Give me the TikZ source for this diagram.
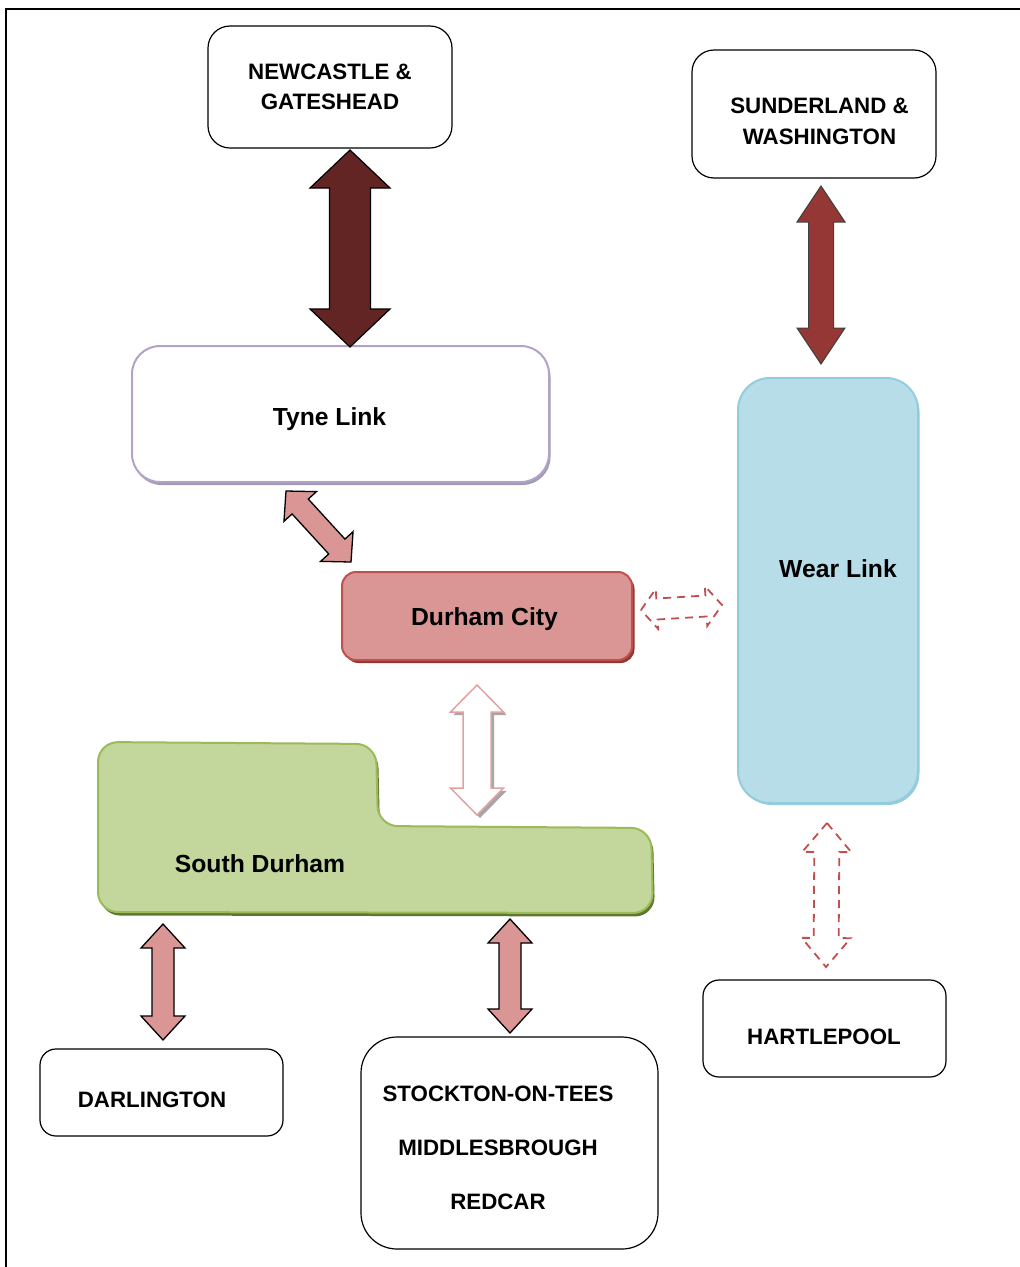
\documentclass[tikz,border=0pt]{standalone}
\usepackage{fontspec}
\setmainfont{Liberation Sans}
\usetikzlibrary{calc,shadows}
\definecolor{ncarrow}{HTML}{632523}
\definecolor{snarrow}{HTML}{953735}
\definecolor{pinkfill}{HTML}{D99694}
\definecolor{redline}{HTML}{C0504D}
\definecolor{redshadow}{HTML}{943634}
\definecolor{greenfill}{HTML}{C3D69B}
\definecolor{greenline}{HTML}{9BBB59}
\definecolor{greenshadow}{HTML}{5F7530}
\definecolor{lavline}{HTML}{B3A2C7}
\definecolor{lavshadow}{HTML}{A29CB2}
\definecolor{bluefill}{HTML}{B7DDE8}
\definecolor{blueline}{HTML}{93CDDD}
\definecolor{hollowline}{HTML}{E0A3A2}
\newcommand{\blockarrow}[6]{%
  \path ($(#2)!#6!(#3)$) coordinate (ba-h1) ($(#3)!#6!(#2)$) coordinate (ba-h2);
  \draw[#1] (#2) -- ($(ba-h1)!#5!90:(#3)$) -- ($(ba-h1)!#4!90:(#3)$)
    -- ($(ba-h2)!#4!-90:(#2)$) -- ($(ba-h2)!#5!-90:(#2)$) -- (#3)
    -- ($(ba-h2)!#5!90:(#2)$) -- ($(ba-h2)!#4!90:(#2)$)
    -- ($(ba-h1)!#4!-90:(#3)$) -- ($(ba-h1)!#5!-90:(#3)$) -- cycle;
}
\tikzset{
  box/.style={draw=black, line width=1.2pt, fill=white, inner sep=0pt, rounded corners=#1},
  box/.default=18pt,
  capt/.style={font=\fontsize{22.3}{30}\selectfont\bfseries, inner sep=0pt, anchor=north, align=center},
  mixt/.style={font=\fontsize{24.7}{30}\selectfont\bfseries, inner sep=0pt, anchor=north},
  solidpink/.style={fill=pinkfill, draw=black, line width=1.3pt, line join=miter},
  dasharrow/.style={draw=redline, line width=1.8pt, dash pattern=on 8pt off 6pt},
}
\begin{document}
\begin{tikzpicture}[x=1pt,y=-1pt]
\useasboundingbox (0,0) rectangle (1020,1267);
\draw[line width=2pt] (6,1267) -- (6,8.5) -- (1020,8.5);

% boxes
\node[box=22pt, minimum width=244pt, minimum height=122pt] (ncl) at (330,87) {};
\node[capt] (ncltxt) at (330,64) {NEWCASTLE \&\\GATESHEAD};
\node[box=22pt, minimum width=244pt, minimum height=128pt] (sun) at (814,114) {};
\node[capt, font=\fontsize{22.3}{31}\selectfont\bfseries] (suntxt) at (819.5,98) {SUNDERLAND \&\\WASHINGTON};

\node[draw=lavline, line width=2pt, fill=white, rounded corners=28pt, minimum width=417pt, minimum height=136pt,
  drop shadow={shadow xshift=1.5pt, shadow yshift=-3pt, fill=lavshadow, opacity=1}] (tyne) at (340.5,414) {};
\node[mixt] (tynetxt) at (329.5,407) {Tyne Link};

\node[draw=blueline, line width=2pt, fill=bluefill, rounded corners=32pt, minimum width=180pt, minimum height=425pt,
  drop shadow={shadow xshift=1.5pt, shadow yshift=-2pt, fill=blueline, opacity=1}] (wear) at (828,590.5) {};
\node[mixt] (weartxt) at (838,559) {Wear Link};

\node[draw=redline, line width=2pt, fill=pinkfill, rounded corners=14pt, minimum width=290pt, minimum height=88pt,
  drop shadow={shadow xshift=2.5pt, shadow yshift=-3pt, fill=redshadow, opacity=1}] (dur) at (487,616) {};
\node[mixt] (durtxt) at (484.5,607) {Durham City};

\draw[draw=greenline, fill=greenfill, line width=2pt, rounded corners=20pt,
  drop shadow={shadow xshift=2pt, shadow yshift=-3.5pt, fill=greenshadow, opacity=1}]
  (98,912) -- (98,742) -- (376,744) -- (378,826) -- (651,828) -- (653,913) -- cycle;
\node[mixt] (sdtxt) at (260,854) {South Durham};

\node[box=16pt, minimum width=243pt, minimum height=87pt] (dar) at (161.5,1092.5) {};
\node[capt] (dartxt) at (152,1092) {DARLINGTON};
\node[box=36pt, minimum width=297pt, minimum height=212pt] (stk) at (509.5,1143) {};
\node[capt, font=\fontsize{22.3}{54}\selectfont\bfseries] (stktxt) at (498,1086) {STOCKTON-ON-TEES\\MIDDLESBROUGH\\REDCAR};
\node[box=16pt, minimum width=243pt, minimum height=97pt] (hrt) at (824.5,1028.5) {};
\node[capt] (hrttxt) at (824,1029) {HARTLEPOOL};

% arrow end points
\coordinate (a1a) at (350,150);  \coordinate (a1b) at (350,347);
\coordinate (a2a) at (821,186);  \coordinate (a2b) at (821,364);
\coordinate (a3a) at (286,491);  \coordinate (a3b) at (351,562);
\coordinate (a4a) at (477,685);  \coordinate (a4b) at (477,815);
\coordinate (a5a) at (641,610);  \coordinate (a5b) at (722,605);
\coordinate (a6a) at (827,823);  \coordinate (a6b) at (826,967);
\coordinate (a7a) at (163,924);  \coordinate (a7b) at (163,1040);
\coordinate (a8a) at (510,919);  \coordinate (a8b) at (510,1033);

\blockarrow{fill=ncarrow, draw=black, line width=1.2pt}{a1a}{a1b}{20.5pt}{40pt}{38pt}
\blockarrow{fill=snarrow, draw=black!75, line width=1pt}{a2a}{a2b}{12.5pt}{24pt}{36pt}
\blockarrow{solidpink}{a3a}{a3b}{11pt}{22pt}{21pt}
\blockarrow{fill=white, draw=hollowline, line width=1.5pt,
  drop shadow={shadow xshift=3pt, shadow yshift=-3pt, fill=black!35, opacity=1}}{a4a}{a4b}{14pt}{26.5pt}{27pt}
\blockarrow{dasharrow}{a5a}{a5b}{10.5pt}{20pt}{16pt}
\blockarrow{dasharrow}{a6a}{a6b}{12.5pt}{24.5pt}{29pt}
\blockarrow{solidpink}{a7a}{a7b}{11pt}{22pt}{24pt}
\blockarrow{solidpink}{a8a}{a8b}{11pt}{22pt}{24pt}
\end{tikzpicture}
\end{document}
